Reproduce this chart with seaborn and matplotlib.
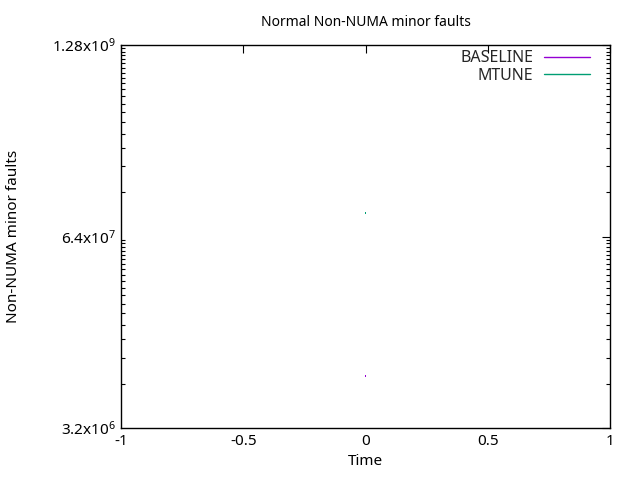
import seaborn as sns
import matplotlib.pyplot as plt
import matplotlib.ticker as mticker
from matplotlib.lines import Line2D
import pandas as pd

# values
series = ['BASELINE', 'MTUNE']
times = [0, 0]
faults = [7.2e6, 9.25e7]
colors = ['#9400d3', '#009e73']

y_major = [3.2e6, 6.4e7, 1.28e9]
y_major_labels = [r'$\mathregular{3.2x10^{6}}$', r'$\mathregular{6.4x10^{7}}$',
                  r'$\mathregular{1.28x10^{9}}$']
x_ticks = [-1, -0.5, 0, 0.5, 1]
x_labels = ['-1', '-0.5', '0', '0.5', '1']

df = pd.DataFrame({'series': series, 'time': times, 'faults': faults})

sns.set_theme(style='white')
plt.rcParams['font.family'] = ['Noto Sans', 'DejaVu Sans']

fig = plt.figure(figsize=(6.4, 4.8), dpi=100)
ax = fig.add_axes([121 / 640, 1 - 428 / 480, (610 - 121) / 640, (428 - 45) / 480])

sns.scatterplot(data=df, x='time', y='faults', hue='series', palette=colors,
                marker='s', s=1.5, linewidth=0, legend=False, ax=ax)

ax.set_yscale('log')
ax.set_xlim(-1, 1)
ax.set_ylim(3.2e6, 1.28e9)
ax.yaxis.set_major_locator(mticker.FixedLocator(y_major))
ax.yaxis.set_major_formatter(mticker.FixedFormatter(y_major_labels))
minors = [k * m for m in y_major[:-1] for k in range(2, 20)]
ax.yaxis.set_minor_locator(mticker.FixedLocator(minors))
ax.yaxis.set_minor_formatter(mticker.NullFormatter())
ax.set_xticks(x_ticks)
ax.set_xticklabels(x_labels)

ax.tick_params(which='major', direction='in', length=6, width=0.8, color='black',
               top=True, right=True, labelsize=11, labelcolor='black', pad=4)
ax.tick_params(which='minor', direction='in', length=3, width=0.8, color='black',
               left=True, right=True)
for sp in ax.spines.values():
    sp.set_color('black')
    sp.set_linewidth(1)

ax.set_xlabel('Time', fontsize=11, color='black', labelpad=4)
ax.set_ylabel('Non-NUMA minor faults', fontsize=11, color='black', labelpad=22)
ax.set_title('Normal Non-NUMA minor faults', fontsize=10, color='black', pad=14)

handles = [Line2D([0], [0], color=c, lw=1) for c in colors]
ax.legend(handles, series, loc='upper right', bbox_to_anchor=(0.972, 1.003),
          frameon=False, markerfirst=False, fontsize=11.5, handlelength=2.9,
          labelspacing=0.1, borderaxespad=0, handletextpad=0.65)

fig.savefig('out.png', dpi=100)
